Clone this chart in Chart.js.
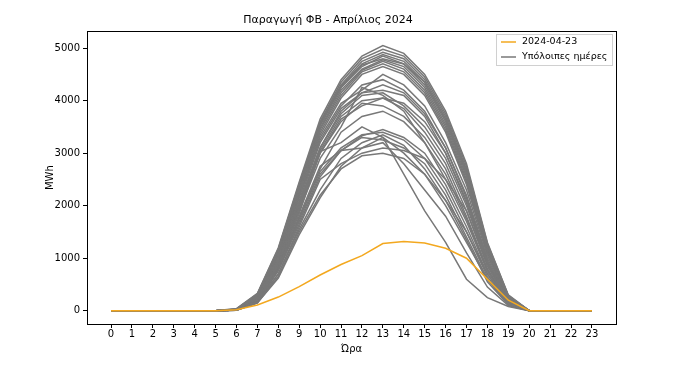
<!DOCTYPE html>
<html><head><meta charset="utf-8">
<script src="https://cdn.jsdelivr.net/npm/chart.js@4.4.1/dist/chart.umd.min.js"></script>
<style>html,body{margin:0;padding:0;background:#fff}#wrap{width:700px;height:367px}</style>
</head><body><div id="wrap"><canvas id="c" width="700" height="367"></canvas></div>
<script>
const hours = [0,1,2,3,4,5,6,7,8,9,10,11,12,13,14,15,16,17,18,19,20,21,22,23];
const yTicks = [0,1000,2000,3000,4000,5000];
const highlightLabel = "2024-04-23";
const otherLabel = "Υπόλοιπες ημέρες";
const highlightDay = [0,0,0,0,0,0,20,110,260,460,680,880,1050,1280,1320,1290,1190,1000,600,200,0,0,0,0];
// values for hours 6..19 (other hours are 0)
const otherDaysCore = [
 [40,330,1200,2450,3650,4400,4850,5050,4900,4500,3800,2800,1300,300],
 [35,320,1180,2420,3600,4350,4800,4980,4850,4450,3750,2750,1280,290],
 [30,300,1150,2400,3580,4300,4750,4920,4800,4400,3700,2700,1250,280],
 [30,310,1150,2380,3550,4280,4700,4880,4750,4350,3650,2650,1220,270],
 [25,290,1120,2350,3520,4250,4680,4800,4700,4300,3600,2600,1200,260],
 [25,280,1100,2300,3480,4200,4600,4780,4650,4250,3550,2550,1180,250],
 [20,270,1080,2280,3450,4150,4580,4750,4600,4200,3500,2500,1150,240],
 [20,260,1050,2250,3400,4100,4550,4700,4550,4150,3450,2450,1120,230],
 [20,250,1000,2200,3350,4050,4500,4650,4500,4100,3400,2400,1100,220],
 [25,300,1150,2350,3550,4250,4650,4850,4700,4350,3650,2650,1230,270],
 [20,260,1050,2200,3300,3950,4200,4500,4300,3900,3200,2300,1050,210],
 [20,250,1000,2150,3250,3900,4300,4400,4200,3800,3100,2200,1000,200],
 [15,240,980,2100,3200,3850,4150,4200,4100,3700,3000,2100,950,190],
 [15,230,950,2050,3100,3750,4100,4150,3900,3500,2900,2000,900,180],
 [15,220,920,2000,3050,3700,4000,4050,3850,3400,2800,1900,850,170],
 [15,210,900,1950,3000,3600,3950,3900,3700,3300,2700,1800,800,160],
 [15,200,880,1900,2900,3500,4250,4100,3800,3200,2500,1700,750,150],
 [15,210,900,1950,3000,3650,3900,4050,3950,3600,3000,2050,900,170],
 [15,220,930,2050,3100,3800,4150,4300,4150,3750,3100,2150,950,180],
 [15,200,850,1850,3030,3200,3500,3300,3000,2600,2000,1300,600,130],
 [15,190,820,1800,2750,3050,3330,3450,3300,3000,2400,1600,700,140],
 [12,180,800,1750,2650,3100,3350,3400,3250,2900,2300,1500,650,130],
 [12,170,780,1700,2600,3050,3300,3250,3100,2800,2200,1400,600,120],
 [12,180,800,1750,2700,3400,3700,3800,3600,3200,2600,1750,780,150],
 [12,170,760,1650,2550,3050,3100,3300,2600,1900,1300,600,250,80],
 [10,160,700,1600,2500,2800,3000,3100,3050,2900,2500,1900,900,160],
 [10,150,650,1500,2200,2700,2950,3000,2900,2600,2100,1500,700,130],
 [10,150,620,1450,2150,2750,3100,3200,2800,2300,1800,1100,450,100],
 [10,160,700,1550,2300,2900,3200,3350,3150,2700,2100,1350,550,110]
];
const otherDays = otherDaysCore.map(r => [0,0,0,0,0,0, ...r, 0,0,0,0]);

const GRAY = '#787878', ORANGE = '#F3A81F';
const toXY = arr => hours.map((h,i) => ({x:h, y:arr[i]}));
const datasets = [];
otherDays.forEach(d => datasets.push({
  label: otherLabel, data: toXY(d), borderColor: GRAY, borderWidth: 1.5,
  pointRadius: 0, tension: 0, fill: false, order: 2
}));
datasets.push({label: highlightLabel, data: toXY(highlightDay), borderColor: ORANGE, borderWidth: 1.5,
  pointRadius: 0, tension: 0, fill: false, order: 1});

const FONT = "'DejaVu Sans', sans-serif";
const frame = {
  id: 'frame',
  afterDraw(chart) {
    const {ctx, chartArea: a} = chart;
    ctx.save();
    ctx.strokeStyle = '#000'; ctx.lineWidth = 1;
    ctx.strokeRect(Math.round(a.left)+0.5, Math.round(a.top)+0.5, Math.round(a.right-a.left), Math.round(a.bottom-a.top));
    // legend (matplotlib style, upper right inside axes)
    const items = [[highlightLabel, ORANGE], [otherLabel, GRAY]];
    ctx.font = '9.5px ' + FONT;
    const tw = Math.max(...items.map(i => ctx.measureText(i[0]).width));
    const bw = Math.round(5 + 15 + 6 + tw + 5), bh = 31;
    const bx = Math.round(a.right - 4 - bw), by = Math.round(a.top + 3);
    ctx.fillStyle = 'rgba(255,255,255,0.8)';
    ctx.fillRect(bx, by, bw, bh);
    ctx.strokeStyle = '#d0d0d0';
    ctx.strokeRect(bx+0.5, by+0.5, bw, bh);
    items.forEach((it, k) => {
      const yy = by + 8 + k*15;
      ctx.strokeStyle = it[1]; ctx.lineWidth = 1.5;
      ctx.beginPath(); ctx.moveTo(bx+5, yy); ctx.lineTo(bx+20, yy); ctx.stroke();
      ctx.fillStyle = '#000'; ctx.textBaseline = 'middle'; ctx.textAlign = 'left';
      ctx.fillText(it[0], bx + 26, yy);
    });
    ctx.restore();
  }
};

new Chart(document.getElementById('c'), {
  type: 'line',
  data: { datasets },
  options: {
    responsive: false, animation: false,
    layout: { padding: { left: 40, right: 84, top: 0, bottom: 10 } },
    plugins: {
      title: { display: true, text: 'Παραγωγή ΦΒ - Απρίλιος 2024', color: '#000',
        font: { family: FONT, size: 11, weight: 'normal' }, padding: { top: 14, bottom: 4 } },
      legend: { display: false },
      tooltip: { enabled: false }
    },
    scales: {
      x: {
        type: 'linear', min: -1.15, max: 24.15,
        afterBuildTicks: s => { s.ticks = hours.map(v => ({value: v})); },
        afterFit: s => { s.height = 33; },
        ticks: { color: '#000', font: { family: FONT, size: 10 }, maxRotation: 0, autoSkip: false, padding: 0 },
        grid: { display: true, drawOnChartArea: false, tickLength: 4, color: '#000' },
        border: { display: true, color: '#000' },
        title: { display: true, text: 'Ώρα', color: '#000', font: { family: FONT, size: 10 }, padding: { top: 0, bottom: 2 } }
      },
      y: {
        type: 'linear', min: -253, max: 5323,
        afterBuildTicks: s => { s.ticks = yTicks.map(v => ({value: v})); },
        afterFit: s => { s.width = 47; },
        ticks: { color: '#000', font: { family: FONT, size: 10 }, padding: 3, callback: v => String(v) },
        grid: { display: true, drawOnChartArea: false, tickLength: 4, color: '#000' },
        border: { display: true, color: '#000' },
        title: { display: true, text: 'MWh', color: '#000', font: { family: FONT, size: 10 }, padding: { top: 4, bottom: 4 } }
      }
    }
  },
  plugins: [frame]
});
</script>
</body></html>
